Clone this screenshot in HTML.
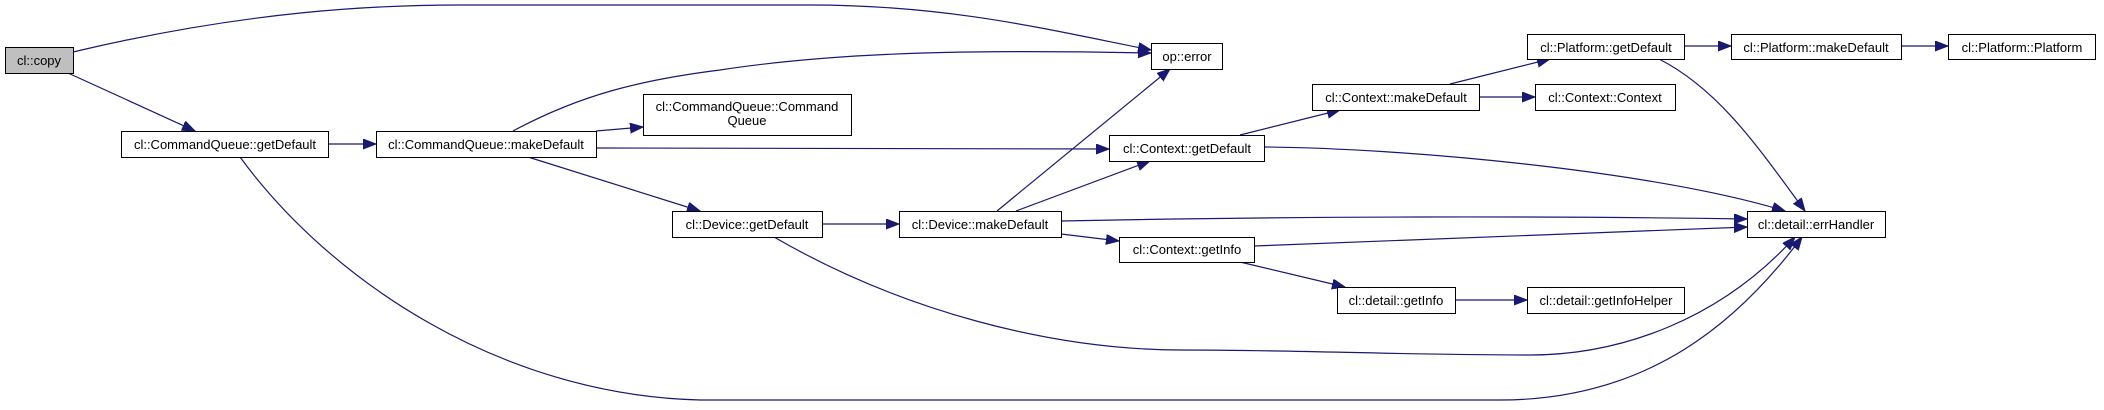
<!DOCTYPE html>
<html><head><meta charset="utf-8"><style>
html,body{margin:0;padding:0;background:#fff;}
svg{display:block;}
text{font-family:"Liberation Sans",Arial,sans-serif;font-size:13px;fill:#000;}
</style></head><body>
<svg width="2104" height="410" viewBox="0 0 2104 410" xmlns="http://www.w3.org/2000/svg">
<defs>
<marker id="a" markerUnits="userSpaceOnUse" markerWidth="14" markerHeight="12" refX="13" refY="5" orient="auto">
<path d="M0,0 L13,5 L0,10 z" fill="#191970" stroke="#191970"/>
</marker>
</defs>
<g fill="none" stroke="#191970" stroke-width="1.2" marker-end="url(#a)">
<path d="M73,52 C250,10 380,5 460,5 L810,5 C950,5 1050,30 1151,50"/>
<path d="M68,73 L195,131"/>
<path d="M328,144 L376,144"/>
<path d="M513,131 C580,95 640,80 720,70 C850,50 1000,50 1151,53"/>
<path d="M596,131 L643,127"/>
<path d="M596,148 L1109,149"/>
<path d="M528,157 L700,211"/>
<path d="M240,157 C330,280 500,395 700,400 L1500,400 C1650,400 1740,320 1802,237"/>
<path d="M774,237 C900,310 1050,350 1182,350 C1300,350 1400,355 1530,355 C1620,355 1720,320 1795,237"/>
<path d="M822,224 L899,224"/>
<path d="M997,211 L1170,69"/>
<path d="M1016,211 L1150,161"/>
<path d="M1061,221 C1300,216 1550,216 1747,219"/>
<path d="M1061,234 L1119,241"/>
<path d="M1240,135 L1340,110"/>
<path d="M1264,147 C1400,148 1650,170 1785,211"/>
<path d="M1254,246 L1747,227"/>
<path d="M1240,262 L1345,287"/>
<path d="M1455,300 L1527,300"/>
<path d="M1450,84 L1550,59"/>
<path d="M1479,97 L1535,97"/>
<path d="M1659,59 C1720,90 1760,150 1805,211"/>
<path d="M1684,46 L1731,46"/>
<path d="M1901,46 L1948,46"/>
</g>
<g stroke="#000" stroke-width="1">
<rect x="5.5" y="47.5" width="68" height="26" fill="#bfbfbf"/>
<rect x="121.5" y="131.5" width="207" height="26" fill="#fff"/>
<rect x="376.5" y="131.5" width="220" height="26" fill="#fff"/>
<rect x="643.5" y="94.5" width="208" height="41" fill="#fff"/>
<rect x="672.5" y="211.5" width="150" height="26" fill="#fff"/>
<rect x="1151.5" y="43.5" width="71" height="26" fill="#fff"/>
<rect x="1109.5" y="135.5" width="155" height="26" fill="#fff"/>
<rect x="899.5" y="211.5" width="162" height="26" fill="#fff"/>
<rect x="1119.5" y="237.5" width="135" height="25" fill="#fff"/>
<rect x="1312.5" y="84.5" width="167" height="26" fill="#fff"/>
<rect x="1337.5" y="287.5" width="118" height="26" fill="#fff"/>
<rect x="1527.5" y="34.5" width="157" height="25" fill="#fff"/>
<rect x="1731.5" y="34.5" width="170" height="25" fill="#fff"/>
<rect x="1948.5" y="34.5" width="147" height="25" fill="#fff"/>
<rect x="1535.5" y="84.5" width="140" height="26" fill="#fff"/>
<rect x="1747.5" y="211.5" width="138" height="26" fill="#fff"/>
<rect x="1527.5" y="287.5" width="157" height="26" fill="#fff"/>
</g>
<g text-anchor="middle">
<text x="39" y="65">cl::copy</text>
<text x="225" y="149">cl::CommandQueue::getDefault</text>
<text x="486" y="149">cl::CommandQueue::makeDefault</text>
<text x="747" y="111">cl::CommandQueue::Command</text>
<text x="747" y="125">Queue</text>
<text x="747" y="229">cl::Device::getDefault</text>
<text x="1187" y="61">op::error</text>
<text x="1187" y="153">cl::Context::getDefault</text>
<text x="980" y="229">cl::Device::makeDefault</text>
<text x="1187" y="254">cl::Context::getInfo</text>
<text x="1396" y="102">cl::Context::makeDefault</text>
<text x="1396" y="305">cl::detail::getInfo</text>
<text x="1606" y="52">cl::Platform::getDefault</text>
<text x="1816" y="52">cl::Platform::makeDefault</text>
<text x="2022" y="52">cl::Platform::Platform</text>
<text x="1605" y="102">cl::Context::Context</text>
<text x="1816" y="229">cl::detail::errHandler</text>
<text x="1606" y="305">cl::detail::getInfoHelper</text>
</g>
</svg>
</body></html>
